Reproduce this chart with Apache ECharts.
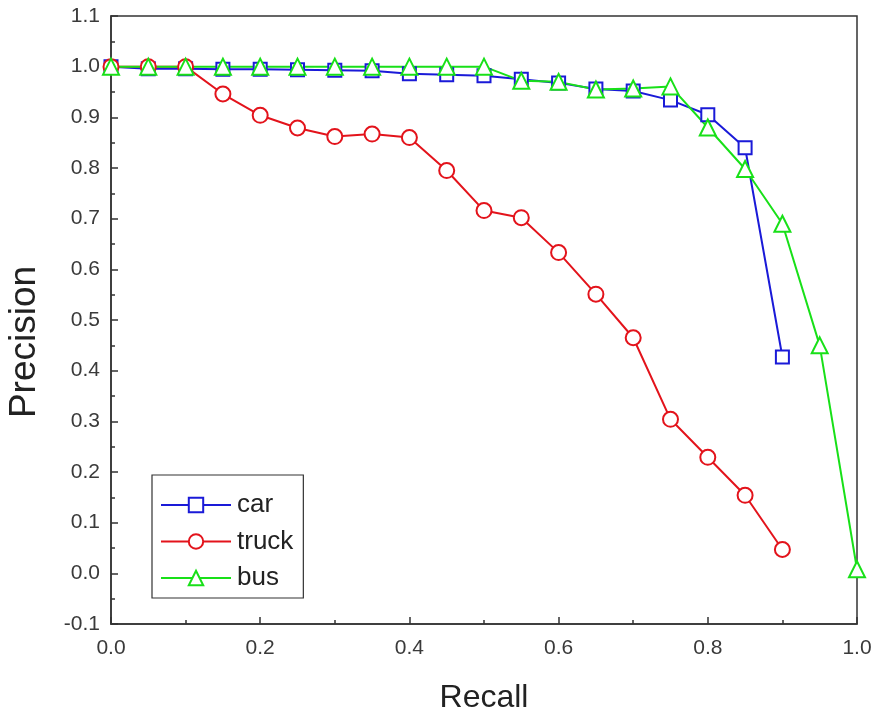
<!DOCTYPE html>
<html>
<head>
<meta charset="utf-8">
<script src="https://cdn.jsdelivr.net/npm/echarts@6/dist/echarts.min.js"></script>
<style>
  html, body { margin: 0; padding: 0; background: #fff; }
  #chart { width: 877px; height: 716px; }
</style>
</head>
<body>
<div id="chart"></div>
<script>
// Precision-recall points per vehicle class
const recallCar = [0, 0.05, 0.1, 0.15, 0.2, 0.25, 0.3, 0.35, 0.4, 0.45, 0.5, 0.55, 0.6, 0.65, 0.7, 0.75, 0.8, 0.85, 0.9];
const precisionCar = [1.0, 0.996, 0.996, 0.995, 0.995, 0.994, 0.993, 0.992, 0.986, 0.984, 0.982, 0.975, 0.968, 0.956, 0.952, 0.934, 0.905, 0.840, 0.427];

const recallTruck = [0, 0.05, 0.1, 0.15, 0.2, 0.25, 0.3, 0.35, 0.4, 0.45, 0.5, 0.55, 0.6, 0.65, 0.7, 0.75, 0.8, 0.85, 0.9];
const precisionTruck = [1.0, 1.0, 1.0, 0.946, 0.904, 0.879, 0.862, 0.867, 0.860, 0.795, 0.716, 0.702, 0.633, 0.551, 0.465, 0.304, 0.229, 0.154, 0.047];

const recallBus = [0, 0.05, 0.1, 0.15, 0.2, 0.25, 0.3, 0.35, 0.4, 0.45, 0.5, 0.55, 0.6, 0.65, 0.7, 0.75, 0.8, 0.85, 0.9, 0.95, 1.0];
const precisionBus = [1.0, 1.0, 1.0, 1.0, 1.0, 1.0, 1.0, 1.0, 1.0, 1.0, 1.0, 0.972, 0.970, 0.955, 0.957, 0.961, 0.880, 0.798, 0.690, 0.450, 0.008];

const seriesNames = ['car', 'truck', 'bus'];
const xTickValues = [0, 0.2, 0.4, 0.6, 0.8, 1.0];

const pair = (xs, ys) => xs.map((x, i) => [x, ys[i]]);

const FONT = "'Liberation Sans', Arial, sans-serif";
const AXIS_COLOR = '#333';

const chart = echarts.init(document.getElementById('chart'), null, { renderer: 'canvas' });

function lineSeries(name, data, color, symbol, size) {
  return {
    name: name,
    type: 'line',
    data: data,
    symbol: symbol,
    symbolSize: size,
    showAllSymbol: true,
    lineStyle: { color: color, width: 2 },
    itemStyle: { color: '#fff', borderColor: color, borderWidth: 2 },
    emphasis: { disabled: true },
    z: 3
  };
}

chart.setOption({
  animation: false,
  backgroundColor: '#fff',
  grid: {
    left: 111, right: 20, top: 16, bottom: 92,
    outerBoundsMode: 'none',
    show: true, borderColor: AXIS_COLOR, borderWidth: 1.5
  },
  legend: {
    orient: 'vertical',
    left: 152, top: 475,
    data: seriesNames,
    borderColor: AXIS_COLOR, borderWidth: 1.2,
    padding: [17, 10, 7, 8],
    itemWidth: 70, itemHeight: 18, itemGap: 10.5,
    textStyle: { fontFamily: FONT, fontSize: 26, lineHeight: 26, color: '#222', padding: [0, 0, 0, 1] }
  },
  xAxis: {
    type: 'value',
    min: 0, max: 1, interval: 0.2,
    name: 'Recall', nameLocation: 'middle', nameGap: 58,
    nameTextStyle: { fontFamily: FONT, fontSize: 32, color: '#222' },
    axisLine: { show: true, onZero: false, lineStyle: { color: AXIS_COLOR, width: 1.5 } },
    axisTick: { show: true, inside: true, length: 7, lineStyle: { color: AXIS_COLOR, width: 1.5 } },
    minorTick: { show: true, splitNumber: 2, length: 4, lineStyle: { color: AXIS_COLOR, width: 1.5 } },
    splitLine: { show: false },
    axisLabel: {
      fontFamily: FONT, fontSize: 21, color: '#3a3a3a', margin: 14,
      formatter: v => xTickValues.some(t => Math.abs(t - v) < 1e-9) ? v.toFixed(1) : ''
    }
  },
  yAxis: {
    type: 'value',
    min: -0.1, max: 1.1, interval: 0.1,
    name: 'Precision', nameLocation: 'middle', nameGap: 68,
    nameTextStyle: { fontFamily: FONT, fontSize: 37, color: '#222', padding: [0, 44, 0, 0] },
    axisLine: { show: true, onZero: false, lineStyle: { color: AXIS_COLOR, width: 1.5 } },
    axisTick: { show: true, inside: true, length: 7, lineStyle: { color: AXIS_COLOR, width: 1.5 } },
    minorTick: { show: true, splitNumber: 2, length: 4, lineStyle: { color: AXIS_COLOR, width: 1.5 } },
    splitLine: { show: false },
    axisLabel: {
      fontFamily: FONT, fontSize: 21, color: '#3a3a3a', margin: 11,
      formatter: v => (Math.abs(v) < 1e-9 ? 0 : v).toFixed(1)
    }
  },
  series: [
    lineSeries('car', pair(recallCar, precisionCar), '#1a1ad8', 'rect', 13),
    lineSeries('truck', pair(recallTruck, precisionTruck), '#e3131b', 'circle', 15),
    lineSeries('bus', pair(recallBus, precisionBus), '#18e018', 'triangle', 16)
  ]
});
</script>
</body>
</html>
